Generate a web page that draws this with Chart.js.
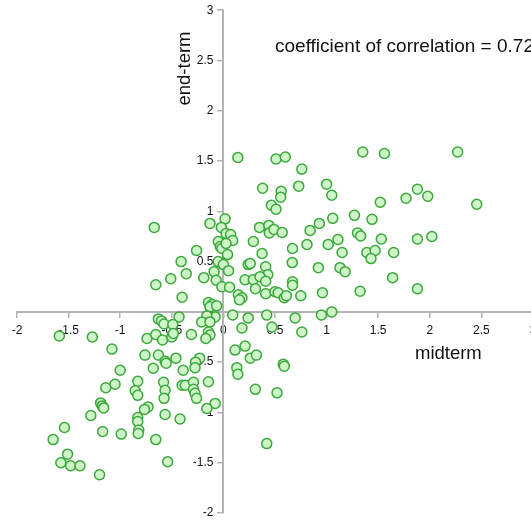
<!DOCTYPE html>
<html>
<head>
<meta charset="utf-8">
<script src="https://cdn.jsdelivr.net/npm/chart.js@4"></script>
<style>
  html, body { margin: 0; padding: 0; background: #fff; overflow: hidden; }
  #wrap { width: 531px; height: 525px; overflow: hidden; }
</style>
</head>
<body>
<div id="wrap"><canvas id="chart" width="545" height="525"></canvas></div>
<script>
// midterm / end-term scores (standardised)
const midterm = [
  0.14, 0.51, 0.60, 0.76, 1.35, 1.56, 2.27, 0.38, 0.73, 0.56, 0.555, 0.465, 0.51, 1.0, 1.05, 1.52, 1.77, 1.88, 1.98, 2.455,
  -0.67, -0.13, 0.016, -0.02, 0.026, 0.07, 0.09, 0.35, 0.44, 0.445, 0.49, 0.57, 0.84, 0.93, 1.06, 1.27, 1.44,
  -0.05, -0.03, -0.015, 0.026, 0.04, -0.26, 0.29, 0.375, 0.67, 0.81, 1.015, 1.11, 1.30, 1.33, 1.53, 1.88, 2.02,
  1.15, 1.39, 1.47, 1.65, 1.43, 0.667, 0.92, 1.13, 1.18, -0.41, -0.05, 0.0, 0.05, -0.09, 0.24, 0.26, 0.41,
  -0.36, -0.51, -0.19, -0.655, -0.07, -0.015, 0.06, -0.40, -0.145, -0.11, -0.13, -0.065, 0.145, 0.18, 0.155,
  0.21, 0.29, 0.31, 0.43, 0.355, 0.41, 0.41, 0.50, 0.53, 0.59, 0.61, 0.67, 0.67, 0.75, 0.96, 1.325, 1.64, 1.88, 1.05,
  0.95, -0.08, -0.16, -0.21, -0.13, -0.145, -0.13, -0.17, -0.31, -0.43, -0.63, -0.60, -0.575, -0.49, -0.74, -0.655,
  -0.59, -0.50, -0.485, 0.09, 0.24, 0.18, 0.42, 0.47, 0.695, 0.76, -1.59, -1.27,
  -1.08, -0.76, -0.63, -0.565, -0.555, -0.46, -0.68, -1.0, -0.39, -0.23, -0.27, -0.275, 0.113, 0.21, 0.26, 0.32,
  0.58, 0.59, 0.13, 0.14, 0.31, 0.52, 0.42, -1.05, -1.14, -0.83, -0.855, -0.83, -0.58, -0.565, -0.575, -0.73, -0.765,
  -1.19, -1.175, -1.16, -1.285, -0.565, -0.83, -0.83, -0.82, -0.825, -1.17, -0.99, -0.655, -1.54, -1.65, -1.51,
  -1.575, -1.48, -1.39, -1.20, -0.54, -0.40, -0.37, -0.29, -0.29, -0.275, -0.26, -0.145, -0.08, -0.16, -0.42
];
const endterm = [
  1.535, 1.52, 1.54, 1.42, 1.59, 1.575, 1.59, 1.23, 1.25, 1.20, 1.14, 1.06, 1.02, 1.27, 1.16, 1.09, 1.13, 1.22, 1.15, 1.07,
  0.84, 0.88, 0.925, 0.84, 0.78, 0.77, 0.71, 0.84, 0.86, 0.785, 0.82, 0.79, 0.81, 0.88, 0.93, 0.96, 0.92,
  0.70, 0.65, 0.63, 0.68, 0.57, 0.61, 0.70, 0.58, 0.63, 0.67, 0.67, 0.72, 0.785, 0.755, 0.725, 0.725, 0.75,
  0.59, 0.59, 0.61, 0.59, 0.53, 0.49, 0.44, 0.44, 0.40, 0.50, 0.50, 0.47, 0.41, 0.40, 0.47, 0.48, 0.45,
  0.38, 0.33, 0.34, 0.27, 0.315, 0.25, 0.245, 0.145, 0.093, 0.073, 0.05, 0.06, 0.17, 0.14, 0.12,
  0.32, 0.32, 0.23, 0.37, 0.35, 0.305, 0.18, 0.20, 0.19, 0.14, 0.16, 0.30, 0.265, 0.16, 0.19, 0.205, 0.34, 0.23, 0.0,
  -0.03, -0.05, -0.04, -0.10, -0.10, -0.20, -0.23, -0.265, -0.225, -0.05, -0.07, -0.09, -0.12, -0.125, -0.265, -0.225,
  -0.28, -0.25, -0.215, -0.03, -0.06, -0.16, -0.03, -0.15, -0.06, -0.20, -0.24, -0.25,
  -0.37, -0.43, -0.43, -0.49, -0.51, -0.46, -0.56, -0.58, -0.58, -0.46, -0.50, -0.555, -0.38, -0.34, -0.46, -0.43,
  -0.52, -0.54, -0.555, -0.62, -0.77, -0.805, -1.31, -0.72, -0.755, -0.69, -0.785, -0.83, -0.70, -0.78, -0.86, -0.945, -0.97,
  -0.905, -0.935, -0.955, -1.03, -1.02, -1.05, -1.09, -1.175, -1.21, -1.19, -1.215, -1.27, -1.15, -1.27, -1.415,
  -1.50, -1.53, -1.53, -1.62, -1.49, -0.73, -0.73, -0.70, -0.77, -0.81, -0.86, -0.695, -0.91, -0.96, -1.065
];
const xTicks = [-2, -1.5, -1, -0.5, 0, 0.5, 1, 1.5, 2, 2.5, 3];
const yTicks = [-2, -1.5, -1, -0.5, 0, 0.5, 1, 1.5, 2, 2.5, 3];
const xTitle = 'midterm';
const yTitle = 'end-term';
const note = 'coefficient of correlation = 0.72';

const points = midterm.map((x, i) => ({ x: x, y: endterm[i] }));

const FONT = "'Liberation Sans', Arial, sans-serif";

// axis titles and the correlation note, placed off the scales
const labelsPlugin = {
  id: 'labels',
  afterDraw(chart) {
    const ctx = chart.ctx;
    const xs = chart.scales.x, ys = chart.scales.y;
    ctx.save();
    ctx.fillStyle = '#111';
    ctx.textBaseline = 'alphabetic';

    ctx.font = '19px ' + FONT;
    ctx.textAlign = 'left';
    ctx.fillText(note, xs.getPixelForValue(0.5), ys.getPixelForValue(2.58));

    ctx.font = '18.5px ' + FONT;
    ctx.textAlign = 'center';
    ctx.fillText(xTitle, xs.getPixelForValue(2.18), ys.getPixelForValue(-0.47));

    ctx.translate(xs.getPixelForValue(-0.32), ys.getPixelForValue(2.42));
    ctx.rotate(-Math.PI / 2);
    ctx.fillText(yTitle, 0, 0);
    ctx.restore();
  }
};

new Chart(document.getElementById('chart'), {
  type: 'scatter',
  data: {
    datasets: [{
      data: points,
      backgroundColor: '#cdf5c8',
      borderColor: '#3aa83a',
      borderWidth: 1.5,
      pointRadius: 5,
      pointHoverRadius: 5
    }]
  },
  options: {
    responsive: false,
    animation: false,
    layout: { padding: { left: 17, right: 12, top: 10, bottom: 12 } },
    plugins: { legend: { display: false }, tooltip: { enabled: false } },
    scales: {
      x: {
        type: 'linear',
        position: { y: 0 },
        min: -2, max: 3,
        afterBuildTicks: s => { s.ticks = xTicks.map(v => ({ value: v })); },
        grid: { drawOnChartArea: false, tickLength: 5, tickColor: '#b4b4b4', lineWidth: 1.5 },
        border: { color: '#b4b4b4', width: 2 },
        ticks: {
          color: '#111', padding: 7, maxRotation: 0, autoSkip: false,
          font: { family: FONT, size: 12 },
          callback: v => String(v)
        }
      },
      y: {
        type: 'linear',
        position: { x: 0 },
        min: -2, max: 3,
        afterBuildTicks: s => { s.ticks = yTicks.map(v => ({ value: v })); },
        grid: { drawOnChartArea: false, tickLength: 5, tickColor: '#b4b4b4', lineWidth: 1.5 },
        border: { color: '#b4b4b4', width: 2 },
        ticks: {
          color: '#111', autoSkip: false,
          font: { family: FONT, size: 12 },
          // centred y axis draws its labels flush against the line, so pad with spaces
          callback: v => String(v) + '   '
        }
      }
    }
  },
  plugins: [labelsPlugin]
});
</script>
</body>
</html>
